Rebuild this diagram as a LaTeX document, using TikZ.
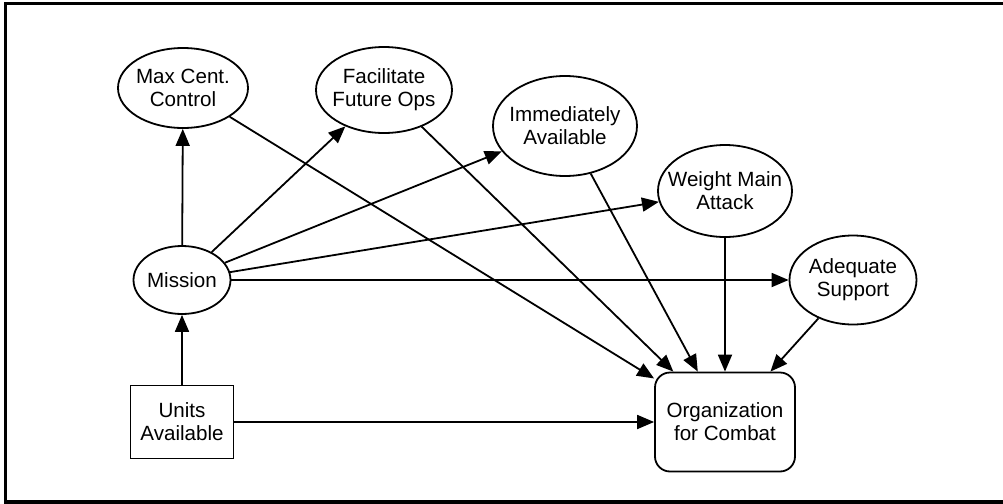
\documentclass[tikz,border=0pt]{standalone}
\usepackage{fontspec}
\setmainfont{Liberation Sans}
\usetikzlibrary{shapes.geometric}
\usetikzlibrary{arrows.meta}

\begin{document}
\begin{tikzpicture}[x=0.5pt, y=-0.5pt, ->, >={Triangle[length=8.5pt, width=7pt]}, line width=0.9pt, font=\fontsize{10.3}{11.5}\selectfont]
		\tikzstyle{goal}=[draw=black, ellipse, inner sep=0pt]
		\tikzstyle{input}=[draw=black, rectangle, inner sep=0pt, align=center, minimum width=51.5pt, minimum height=36.5pt]
		\tikzstyle{decision}=[draw=black, rectangle, rounded corners=7.5pt, inner sep=0pt, align=center, minimum width=70pt, minimum height=49.5pt]
		\tikzset{every label/.style={align=center}}
		
		\useasboundingbox (0,0) rectangle (1003,504);
		\draw[-, line width=1.6pt] (1003,3.5) -- (5.5,3.5) -- (5.5,502) -- (1003,502);
		
		\node[goal, minimum width=65pt, minimum height=40pt, label={center:{Max Cent.\\Control}}] (maxc) at (183,88) {};
		\node[goal, minimum width=68pt, minimum height=43pt, label={center:{Facilitate\\Future Ops}}] (future) at (384,90) {};
		\node[goal, minimum width=72pt, minimum height=50pt, label={center:{Immediately\\Available}}] (immed) at (565,126) {};
		\node[goal, minimum width=67pt, minimum height=46pt, label={center:{Weight Main\\Attack}}] (weight) at (725,191) {};
		\node[goal, minimum width=63.5pt, minimum height=44.5pt, label={center:{Adequate\\Support}}] (support) at (853,280) {};
		\node[goal, minimum width=48.5pt, minimum height=34pt, label={center:Mission}] (mission) at (182,280) {};
		\node[input] (units) at (182,422) {Units\\Available};
		\node[decision] (org) at (725,422) {Organization\\for Combat};
		
		\path (units) edge (mission);
		\path (units) edge (org);
		\path (mission) edge (maxc);
		\path (mission) edge (future);
		\path (mission) edge (immed);
		\path (mission) edge (weight);
		\path (mission) edge (support);
		\path (maxc) edge (org);
		\path (future) edge (org);
		\path (immed) edge (org);
		\path (weight) edge (org);
		\path (support) edge (org);
\end{tikzpicture}
\end{document}
